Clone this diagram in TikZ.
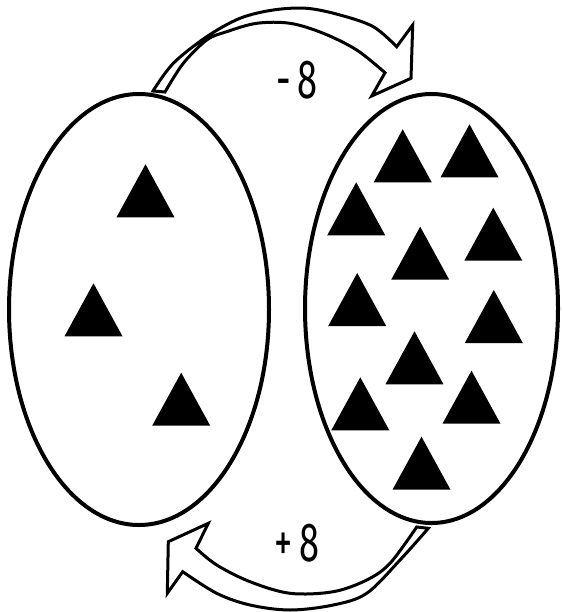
\documentclass[tikz,border=0pt]{standalone}
\usepackage{fontspec}
\setmainfont{Fira Sans}
\usetikzlibrary{shapes.geometric}
\tikzset{
  x=1pt, y=-1pt,
  setoval/.style={ellipse, draw, line width=4pt, inner sep=0pt},
  arrowline/.style={draw, line width=3pt, line join=miter, fill=white},
  lbl/.style={font=\fontsize{55}{55}\selectfont, xscale=0.66, inner sep=0pt},
  tri/.pic={\fill (0,0) -- (29,53) -- (-29,53) -- cycle;}
}
\begin{document}
\begin{tikzpicture}
\useasboundingbox (0,0) rectangle (562,612);
% sets
\node[setoval, minimum width=260pt, minimum height=431pt] (L) at (139,309.5) {};
\node[setoval, minimum width=253pt, minimum height=429pt] (R) at (431.5,308.5) {};
% top arrow (-8)
\path[arrowline] plot[smooth, tension=0.55] coordinates {(153,91) (173.3,63.3) (206.7,36.7) (240,18.3) (273.3,10) (306.7,8.3) (340,15) (373.3,26.7) (396.7,46.7)}
  -- (412.7,25) -- (411,78.3) -- (371.7,96) -- (385,72.7)
  -- plot[smooth, tension=0.55] coordinates {(385,72.7) (356.7,50) (323.3,33.3) (290,23.3) (256.7,23.3) (226.7,31.7) (206.7,40) (183.3,63.3) (165,92)}
  -- cycle;
% bottom arrow (+8)
\path[arrowline] plot[smooth, tension=0.55] coordinates {(428.3,528.3) (400,560) (366.7,593.3) (333.3,605) (290,610) (250,605) (216.7,593.3) (182.7,571.7)}
  -- (167.3,593.3) -- (168.3,541.7) -- (208.3,523.3) -- (196,548.3)
  -- plot[smooth, tension=0.55] coordinates {(196,548.3) (216.7,565) (250,581.7) (290,593.3) (333.3,591.7) (366.7,580) (390,563.3) (416.7,527)}
  -- cycle;
% labels
\node[lbl] (minus) at (297,80) {-\,8};
\node[lbl] (plus) at (297,543) {+\,8};
% left triangles
\pic at (145.5,164.3) {tri};
\pic at (93.5,283.3) {tri};
\pic at (181.2,372.7) {tri};
% right triangles
\pic at (402.7,129.3) {tri};
\pic at (469.5,124.3) {tri};
\pic at (356.2,182.3) {tri};
\pic at (493.3,207.7) {tri};
\pic at (420.2,226.7) {tri};
\pic at (357.2,273) {tri};
\pic at (493.8,290) {tri};
\pic at (414.5,331.3) {tri};
\pic at (360.3,377.3) {tri};
\pic at (471.5,370.7) {tri};
\pic at (421.5,436.7) {tri};
\end{tikzpicture}
\end{document}
